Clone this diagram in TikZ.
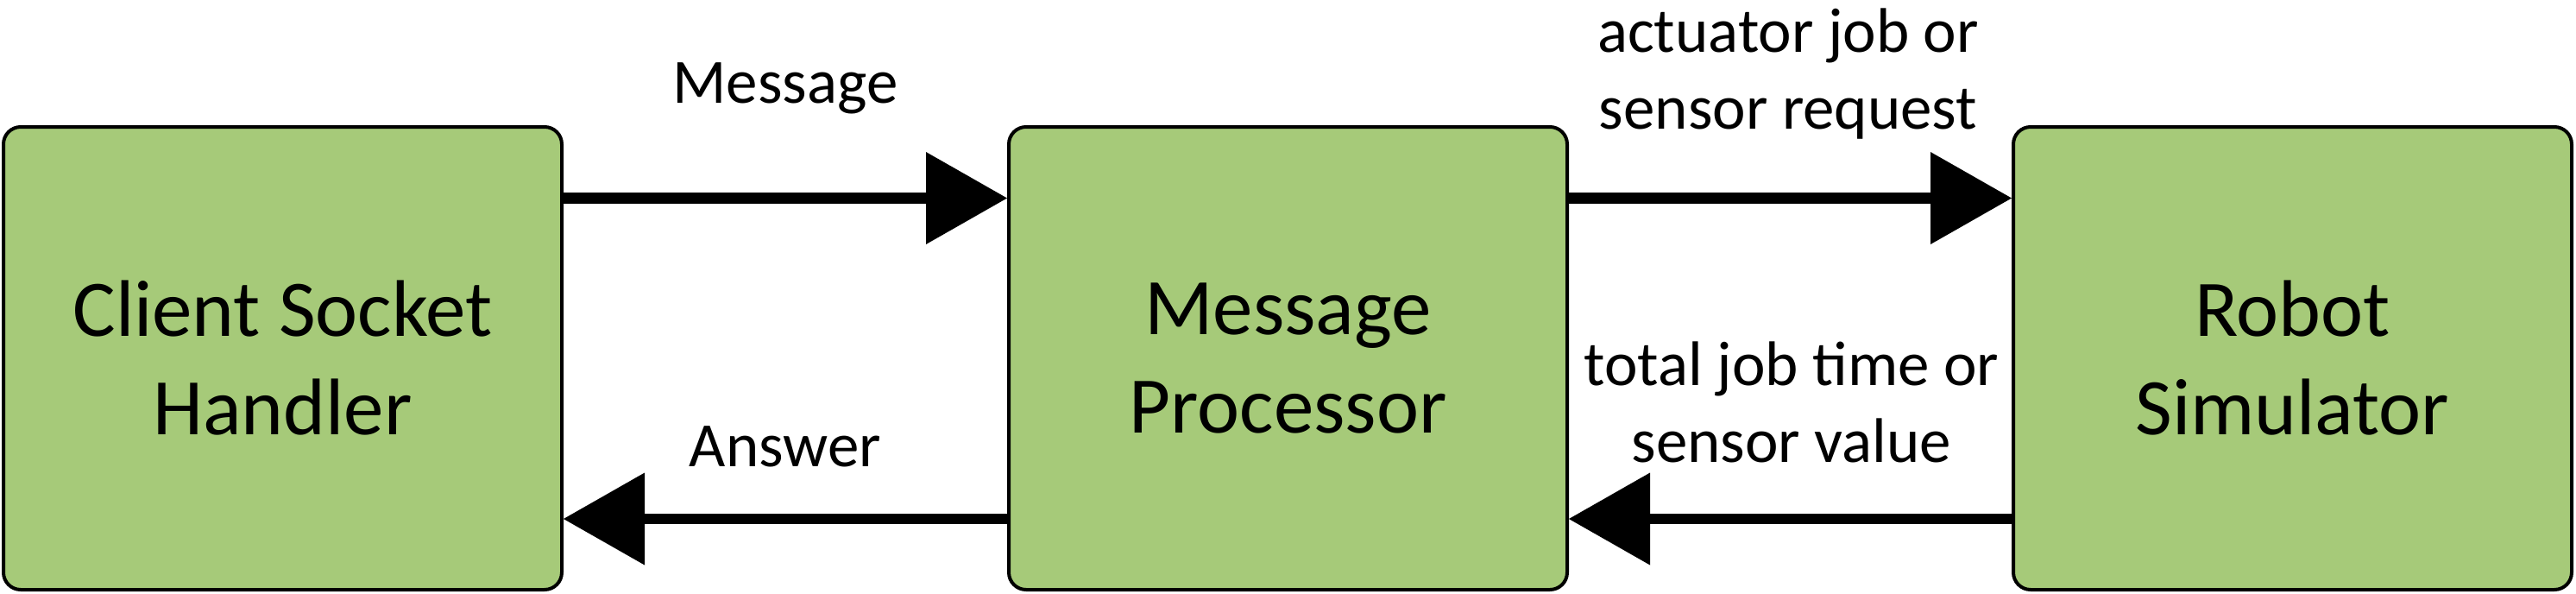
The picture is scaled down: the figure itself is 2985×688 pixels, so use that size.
\documentclass[tikz,border=0pt]{standalone}
\usepackage{fontspec}
\setmainfont{Carlito}
\usetikzlibrary{arrows.meta}
\definecolor{boxgreen}{HTML}{A6CA79}
\tikzset{
  blockbox/.style={draw=black, line width=4pt, fill=boxgreen, rounded corners=20pt,
    minimum width=647pt, minimum height=536pt, inner sep=0pt, align=center,
    font=\fontsize{93}{114}\selectfont},
  flow/.style={line width=12.5pt, -{Triangle[length=94pt,width=107pt,line width=0pt]}},
  lbl/.style={inner sep=0pt, align=center, anchor=base, font=\fontsize{73}{89}\selectfont}
}
\begin{document}
\begin{tikzpicture}[x=1pt,y=-1pt]
\useasboundingbox (0,0) rectangle (2985,688);
\node[blockbox] (csh) at (327.5,415) {Client Socket\\Handler};
\node[blockbox] (mp) at (1492.5,415) {Message\\Processor};
\node[blockbox] (rs) at (2656.5,415) {Robot\\Simulator};
\draw[flow] ([yshift=185.5pt]csh.east) -- ([yshift=185.5pt]mp.west);
\draw[flow] ([yshift=-186pt]mp.west) -- ([yshift=-186pt]csh.east);
\draw[flow] ([yshift=185.5pt]mp.east) -- ([yshift=185.5pt]rs.west);
\draw[flow] ([yshift=-186pt]rs.west) -- ([yshift=-186pt]mp.east);
\node[lbl] (lmsg) at (910,119) {Message};
\node[lbl] (lans) at (910,540) {Answer};
\node[lbl] (lreq) at (2072,149) {actuator job or\\sensor request};
\node[lbl] (lval) at (2076,535) {total job time or\\sensor value};
\end{tikzpicture}
\end{document}
